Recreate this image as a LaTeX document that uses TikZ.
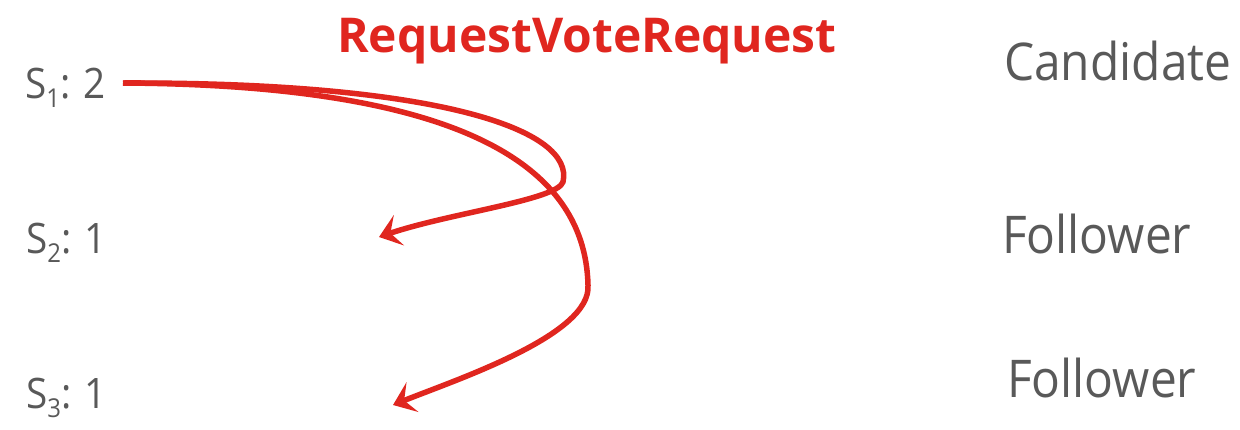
\documentclass[tikz,border=0pt]{standalone}
\usepackage{fontspec}
\usetikzlibrary{arrows.meta}
\newfontfamily\grayfont[FakeStretch=0.92]{Open Sans}
\newfontfamily\redfont{Open Sans}
\definecolor{txtgray}{HTML}{595959}
\definecolor{arrred}{HTML}{E0261F}
\newcommand{\subdigit}[1]{{\fontsize{26}{26}\selectfont\raisebox{-9pt}{#1}}}
\tikzset{
  server/.style={anchor=base west, inner sep=0pt, text=txtgray, font=\grayfont\fontsize{42}{42}\selectfont},
  role/.style={anchor=base west, inner sep=0pt, text=txtgray, font=\grayfont\fontsize{52}{52}\selectfont},
  msg/.style={anchor=base west, inner sep=0pt, text=arrred, font=\redfont\bfseries\fontsize{48}{48}\selectfont},
  rpc/.style={draw=arrred, line width=5.5pt, line cap=butt,
    -{Stealth[length=21pt, width=32pt, inset=9pt]}}
}
\begin{document}
\begin{tikzpicture}[x=1pt, y=-1pt]
\path[use as bounding box] (0,0) rectangle (1240,429);
\node[server] (s1) at (25,98) {S\subdigit{1}: 2};
\node[server] (s2) at (26,253) {S\subdigit{2}: 1};
\node[server] (s3) at (26,408) {S\subdigit{3}: 1};
\node[role] (r1) at (1004,80) {Candidate};
\node[role] (r2) at (1002,253) {Follower};
\node[role] (r3) at (1007,397) {Follower};
\node[msg] (title) at (337,52) {RequestVoteRequest};
\coordinate (src) at (123,83);
\coordinate (d2) at (379,237);
\coordinate (d3) at (393,405);
\draw[rpc] (src) .. controls (440,82) and (575,130) .. (563,182)
  .. controls (557,200) and (450,213) .. (d2);
\draw[rpc] (src) .. controls (450,85) and (585,160) .. (588,285)
  .. controls (592,335) and (455,380) .. (d3);
\end{tikzpicture}
\end{document}
